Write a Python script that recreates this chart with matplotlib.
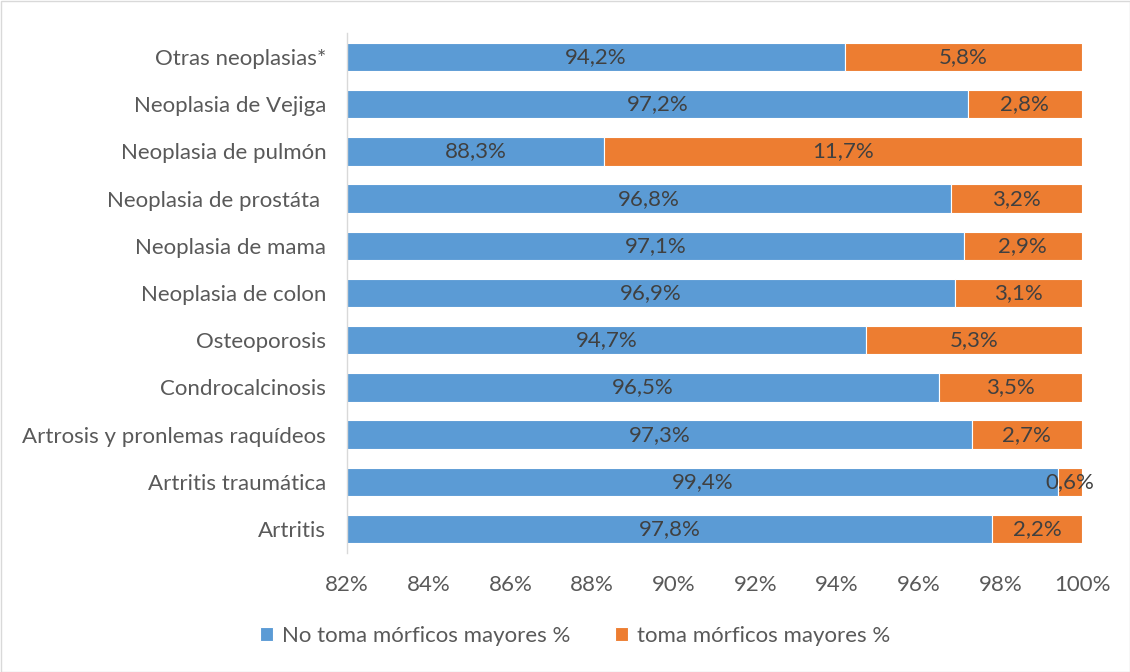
import matplotlib
matplotlib.use("Agg")
import matplotlib.pyplot as plt
from matplotlib.patches import Rectangle

plt.rcParams['font.family'] = ['Lato', 'DejaVu Sans']

categories = ["Artritis", "Artritis traumática", "Artrosis y pronlemas raquídeos",
              "Condrocalcinosis", "Osteoporosis", "Neoplasia de colon",
              "Neoplasia de mama", "Neoplasia de prostáta ", "Neoplasia de pulmón",
              "Neoplasia de Vejiga", "Otras neoplasias*"]
no_toma = [97.8, 99.4, 97.3, 96.5, 94.7, 96.9, 97.1, 96.8, 88.3, 97.2, 94.2]
toma = [2.2, 0.6, 2.7, 3.5, 5.3, 3.1, 2.9, 3.2, 11.7, 2.8, 5.8]
xticks = [82, 84, 86, 88, 90, 92, 94, 96, 98, 100]
series_names = ["No toma mórficos mayores %", "toma mórficos mayores %"]

blue = "#5B9BD5"
orange = "#ED7D31"
txt = "#595959"
lbl = "#404040"
fs = 16

fig = plt.figure(figsize=(11.3, 6.72), dpi=100)
ax = fig.add_axes([347/1130, 1-552.6/672, (1082-347)/1130, (552.6-33.4)/672])

y = range(len(categories))
xmin = 82
ax.barh(y, no_toma, height=0.6, color=blue, edgecolor="white", linewidth=0.8,
        label=series_names[0])
ax.barh(y, toma, left=no_toma, height=0.6, color=orange, edgecolor="white", linewidth=0.8,
        label=series_names[1])

def fmt(v):
    return f"{v:.1f}%".replace(".", ",")

for i, (a, b) in enumerate(zip(no_toma, toma)):
    ax.text((xmin + a) / 2, i, fmt(a), ha="center", va="center", fontsize=fs, color=lbl)
    ax.text(a + b / 2, i, fmt(b), ha="center", va="center", fontsize=fs, color=lbl,
            clip_on=False)

ax.set_xlim(xmin, 100)
ax.set_ylim(-0.5, len(categories) - 0.5)
ax.set_xticks(xticks)
ax.set_xticklabels([f"{t}%" for t in xticks])
ax.set_yticks(list(y))
ax.set_yticklabels(categories)
ax.tick_params(axis="both", length=0, labelsize=fs, colors=txt)
ax.tick_params(axis="x", pad=16)
ax.tick_params(axis="y", pad=15)
for s in ["top", "right", "bottom"]:
    ax.spines[s].set_visible(False)
ax.spines["left"].set_color("#D9D9D9")
ax.spines["left"].set_linewidth(1.0)

leg = fig.legend(loc="center", bbox_to_anchor=(575/1130, 1-636/672), ncol=2, frameon=False,
                 fontsize=fs, handlelength=0.6, handleheight=0.6, columnspacing=2.0,
                 handletextpad=0.4)
for t in leg.get_texts():
    t.set_color(txt)

fig.patches.append(Rectangle((0.5/1130, 0.5/672), 1-1/1130, 1-1/672, transform=fig.transFigure,
                             fill=False, edgecolor="#D9D9D9", linewidth=1.0))

fig.savefig("out.png", dpi=100)
